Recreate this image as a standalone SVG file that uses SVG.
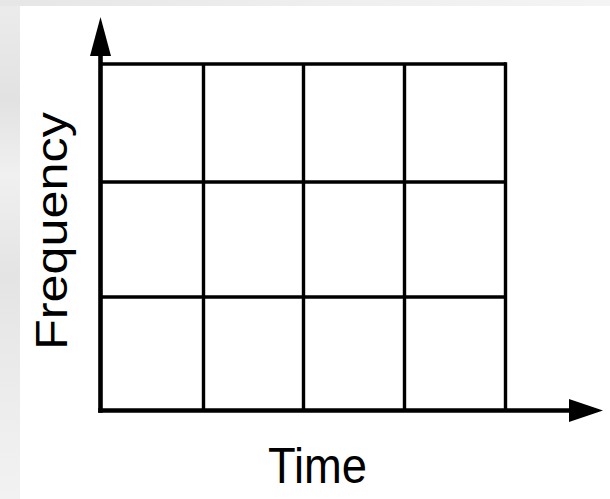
<svg xmlns="http://www.w3.org/2000/svg" width="610" height="499" viewBox="0 0 610 499">
  <defs>
    <linearGradient id="bgL" x1="0" y1="0" x2="0" y2="1">
      <stop offset="0" stop-color="#ececec"/>
      <stop offset="0.2" stop-color="#e2e2e2"/>
      <stop offset="0.35" stop-color="#f0f0f0"/>
      <stop offset="0.55" stop-color="#e4e4e4"/>
      <stop offset="0.75" stop-color="#ebebeb"/>
      <stop offset="1" stop-color="#f2f2f2"/>
    </linearGradient>
    <linearGradient id="bgT" x1="0" y1="0" x2="1" y2="0">
      <stop offset="0" stop-color="#e6e6e6"/>
      <stop offset="0.5" stop-color="#eeeeee"/>
      <stop offset="1" stop-color="#f4f4f4"/>
    </linearGradient>
    <style>
      .grid { stroke: #000; stroke-width: 3.4; fill: none; }
      .axis { stroke: #000; stroke-width: 4.6; fill: none; }
      .head { fill: #000; }
      .lbl { font-family: "Liberation Sans", Arial, sans-serif; fill: #000; }
    </style>
  </defs>
  <rect x="0" y="0" width="610" height="499" fill="url(#bgL)"/>
  <rect x="0" y="0" width="610" height="6" fill="url(#bgT)"/>
  <rect x="20" y="6" width="590" height="493" fill="#ffffff"/>

  <g id="grid">
    <line class="grid" x1="100" y1="64" x2="506" y2="64"/>
    <line class="grid" x1="100" y1="182" x2="506" y2="182"/>
    <line class="grid" x1="100" y1="297" x2="506" y2="297"/>
    <line class="grid" x1="203.5" y1="64" x2="203.5" y2="410"/>
    <line class="grid" x1="303.5" y1="64" x2="303.5" y2="410"/>
    <line class="grid" x1="404.5" y1="64" x2="404.5" y2="410"/>
    <line class="grid" x1="505.5" y1="62.3" x2="505.5" y2="410"/>
  </g>

  <g id="connectors">
    <line class="axis" x1="100.5" y1="412.8" x2="100.5" y2="50"/>
    <polygon class="head" points="100.5,17 90,56 111,56"/>
    <line class="axis" x1="98.2" y1="410.5" x2="575" y2="410.5"/>
    <polygon class="head" points="603,410.5 569,399 569,422"/>
  </g>

  <g id="label-frequency">
    <text class="lbl" transform="translate(67,350) rotate(-90)" x="0" y="0" font-size="44.5" textLength="238" lengthAdjust="spacingAndGlyphs">Frequency</text>
  </g>
  <g id="label-time">
    <text class="lbl" x="268" y="483" font-size="50" textLength="99" lengthAdjust="spacingAndGlyphs">Time</text>
  </g>
</svg>
